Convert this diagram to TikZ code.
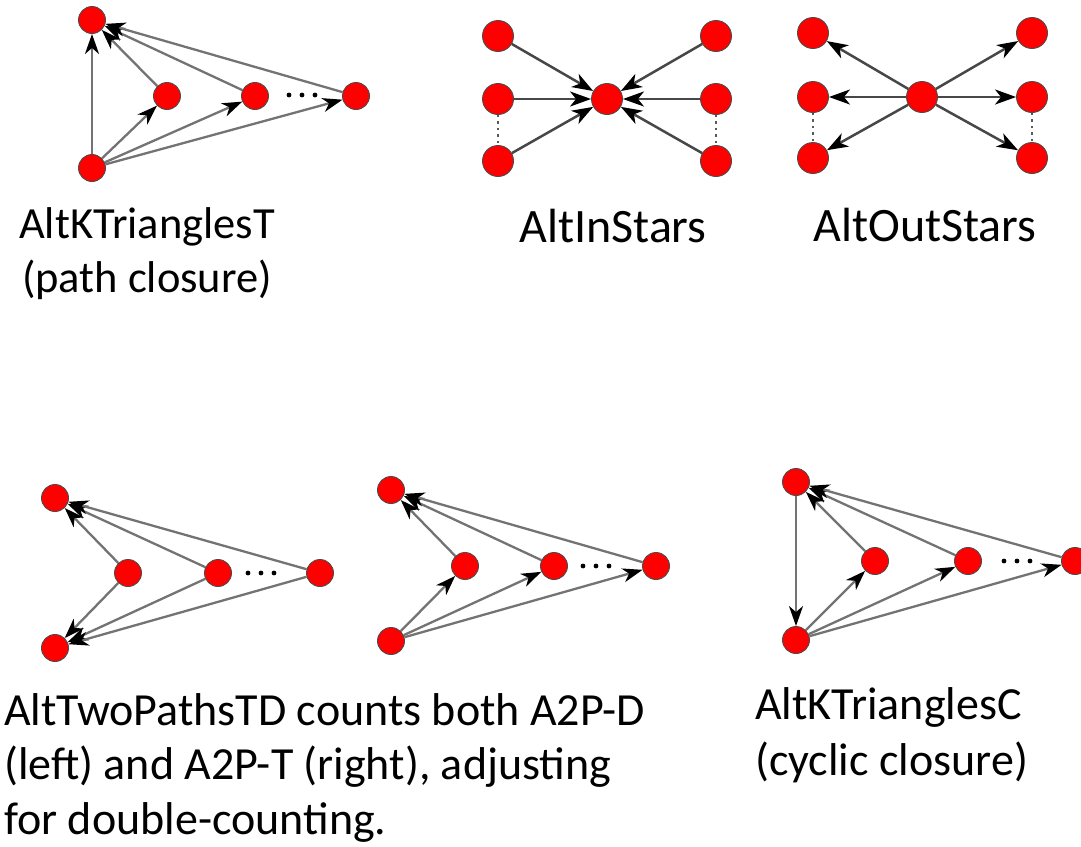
\documentclass[tikz,border=0pt]{standalone}
\usepackage{fontspec}
\setmainfont{Carlito}
\usetikzlibrary{arrows.meta}
\begin{document}
\begin{tikzpicture}[x=1pt,y=-1pt,
  vtx/.style={circle, fill=red, draw=black!70, line width=0.9pt, minimum size=27pt, inner sep=0pt},
  svtx/.style={vtx, minimum size=31pt},
  edge/.style={draw=black!55, line width=2.3pt, -{Stealth[length=20pt,width=14pt,inset=6pt,black]}},
  sedge/.style={draw=black!72, line width=2.5pt, -{Stealth[length=21pt,width=15pt,inset=6pt,black]}},
  dotpt/.style={circle, fill=black, inner sep=0pt, minimum size=4.8pt},
  vdots/.style={draw=black!65, line width=2.5pt, dash pattern=on 2.5pt off 4pt},
  lbl/.style={inner sep=0pt, anchor=base}
]
\clip (0,0) rectangle (1081,846);
\fill[white] (0,0) rectangle (1081,846);

% ---------- AltKTrianglesT ----------
\node[vtx] (a1) at (92,20) {};
\node[vtx] (a2) at (167,96) {};
\node[vtx] (a3) at (255,96) {};
\node[vtx] (a4) at (356,96) {};
\node[vtx] (a5) at (92,168) {};
\draw[edge] (a5) -- (a1);
\draw[edge] (a5) -- (a2);
\draw[edge] (a5) -- (a3);
\draw[edge] (a5) -- (a4);
\draw[edge] (a2) -- (a1);
\draw[edge] (a3) -- (a1);
\draw[edge] (a4) -- (a1);
\node[dotpt] (ad1) at (289,95) {};
\node[dotpt] (ad2) at (302,95) {};
\node[dotpt] (ad3) at (315,95) {};

% ---------- AltInStars ----------
\node[svtx] (ic) at (607,99) {};
\node[svtx] (il1) at (498,36) {};
\node[svtx] (il2) at (498,99) {};
\node[svtx] (il3) at (498,161) {};
\node[svtx] (ir1) at (716,36) {};
\node[svtx] (ir2) at (716,99) {};
\node[svtx] (ir3) at (716,161) {};
\foreach \n in {il1,il2,il3,ir1,ir2,ir3} \draw[sedge] (\n) -- (ic);
\draw[vdots] (il2) -- (il3);
\draw[vdots] (ir2) -- (ir3);

% ---------- AltOutStars ----------
\node[svtx] (oc) at (922,97) {};
\node[svtx] (ol1) at (813,33) {};
\node[svtx] (ol2) at (813,97) {};
\node[svtx] (ol3) at (813,158) {};
\node[svtx] (or1) at (1032,33) {};
\node[svtx] (or2) at (1032,97) {};
\node[svtx] (or3) at (1032,158) {};
\foreach \n in {ol1,ol2,ol3,or1,or2,or3} \draw[sedge] (oc) -- (\n);
\draw[vdots] (ol2) -- (ol3);
\draw[vdots] (or2) -- (or3);

% ---------- A2P-D ----------
\node[vtx] (d1) at (55,498) {};
\node[vtx] (d2) at (128,573) {};
\node[vtx] (d3) at (218,573) {};
\node[vtx] (d4) at (320,573) {};
\node[vtx] (d5) at (55,648) {};
\foreach \n in {d2,d3,d4} {\draw[edge] (\n) -- (d1); \draw[edge] (\n) -- (d5);}
\node[dotpt] (dd1) at (248,573) {};
\node[dotpt] (dd2) at (261,573) {};
\node[dotpt] (dd3) at (274,573) {};

% ---------- A2P-T ----------
\node[vtx] (t1) at (391,490) {};
\node[vtx] (t2) at (465,566) {};
\node[vtx] (t3) at (554,566) {};
\node[vtx] (t4) at (656,566) {};
\node[vtx] (t5) at (391,641) {};
\foreach \n in {t2,t3,t4} {\draw[edge] (t5) -- (\n); \draw[edge] (\n) -- (t1);}
\node[dotpt] (td1) at (583,566) {};
\node[dotpt] (td2) at (596,566) {};
\node[dotpt] (td3) at (609,566) {};

% ---------- AltKTrianglesC ----------
\node[vtx] (c1) at (796,482) {};
\node[vtx] (c2) at (875,561) {};
\node[vtx] (c3) at (968,561) {};
\node[vtx] (c4) at (1075,561) {};
\node[vtx] (c5) at (796,640) {};
\draw[edge] (c1) -- (c5);
\foreach \n in {c2,c3,c4} {\draw[edge] (c5) -- (\n); \draw[edge] (\n) -- (c1);}
\node[dotpt] (cd1) at (1004,561) {};
\node[dotpt] (cd2) at (1017,561) {};
\node[dotpt] (cd3) at (1030,561) {};

% ---------- labels (multi-line: anchor at last baseline) ----------
\node[lbl, align=center, font=\fontsize{44.5}{54}\selectfont] (lkt) at (147,292) {AltKTrianglesT\\(path closure)};
\node[lbl, font=\fontsize{48}{58}\selectfont] (lin) at (613,242) {AltInStars};
\node[lbl, font=\fontsize{48}{58}\selectfont] (lout) at (925,241) {AltOutStars};
\node[lbl, anchor=base west, align=left, font=\fontsize{46}{54.5}\selectfont] (ltp) at (4,834) {AltTwoPathsTD counts both A2P-D\\(left) and A2P-T (right), adjusting\\for double-counting.};
\node[lbl, anchor=base west, align=left, font=\fontsize{46}{56}\selectfont] (lkc) at (755,775) {AltKTrianglesC\\(cyclic closure)};
\end{tikzpicture}
\end{document}
